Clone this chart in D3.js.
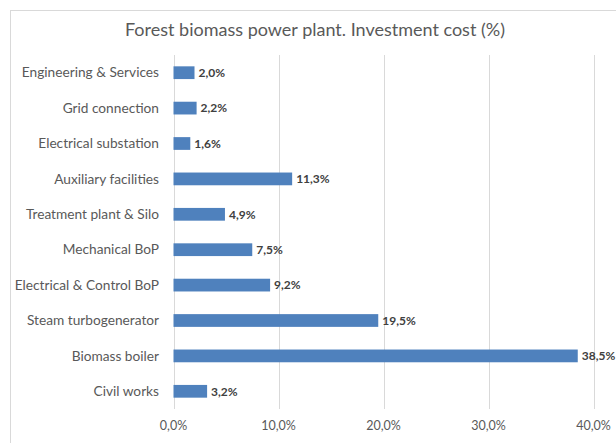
<!DOCTYPE html>
<html>
<head>
<meta charset="utf-8">
<title>investment cost</title>
<script src="https://cdn.jsdelivr.net/npm/d3@7"></script>
<style>
  body { margin: 0; background: #fff; }
  text { font-family: Lato, "Noto Sans", sans-serif; }
</style>
</head>
<body>
<script>
// categories top to bottom, as in the picture
var categories = ["Engineering & Services", "Grid connection", "Electrical substation",
  "Auxiliary facilities", "Treatment plant & Silo", "Mechanical BoP",
  "Electrical & Control BoP", "Steam turbogenerator", "Biomass boiler", "Civil works"];
var values = [2.0, 2.2, 1.6, 11.3, 4.9, 7.5, 9.2, 19.5, 38.5, 3.2];
var ticks = [0, 10, 20, 30, 40];

var w = 616, h = 443;
var fmt = function(d) { return d.toFixed(1).replace(".", ",") + "%"; };

var svg = d3.select("body").append("svg")
  .attr("width", w)
  .attr("height", h);

// chart frame
svg.append("rect")
  .attr("x", 10.5).attr("y", 10.5)
  .attr("width", 620).attr("height", 450)
  .attr("fill", "#fff")
  .attr("stroke", "#d9d9d9");

svg.append("text")
  .attr("x", 315).attr("y", 36)
  .attr("text-anchor", "middle")
  .attr("font-size", "18px")
  .attr("fill", "#595959")
  .text("Forest biomass power plant. Investment cost (%)");

var xScale = d3.scaleLinear().domain([0, 40]).range([173.5, 593.5]);
var yScale = d3.scaleBand().domain(categories).range([55, 409]).paddingInner(0.64).paddingOuter(0.32);

// gridlines
svg.selectAll("line.grid")
  .data(ticks)
  .enter()
  .append("line")
  .attr("class", "grid")
  .attr("x1", function(d) { return Math.round(xScale(d)) + 0.5; })
  .attr("x2", function(d) { return Math.round(xScale(d)) + 0.5; })
  .attr("y1", 55).attr("y2", 409)
  .attr("stroke", "#d9d9d9");

// x tick labels
svg.selectAll("text.tick")
  .data(ticks)
  .enter()
  .append("text")
  .attr("class", "tick")
  .attr("x", function(d) { return xScale(d); })
  .attr("y", 430)
  .attr("text-anchor", "middle")
  .attr("font-size", "12.5px")
  .attr("fill", "#595959")
  .text(fmt);

// bars
svg.selectAll("rect.bar")
  .data(values)
  .enter()
  .append("rect")
  .attr("class", "bar")
  .attr("x", xScale(0))
  .attr("y", function(d, i) { return yScale(categories[i]); })
  .attr("width", function(d) { return xScale(d) - xScale(0); })
  .attr("height", yScale.bandwidth())
  .attr("fill", "#4f81bd");

// category labels
svg.selectAll("text.cat")
  .data(categories)
  .enter()
  .append("text")
  .attr("class", "cat")
  .attr("x", 159)
  .attr("y", function(d) { return yScale(d) + yScale.bandwidth() / 2; })
  .attr("dy", "0.35em")
  .attr("text-anchor", "end")
  .attr("font-size", "13.7px")
  .attr("fill", "#595959")
  .text(function(d) { return d; });

// value labels
svg.selectAll("text.val")
  .data(values)
  .enter()
  .append("text")
  .attr("class", "val")
  .attr("x", function(d) { return xScale(d) + 4; })
  .attr("y", function(d, i) { return yScale(categories[i]) + yScale.bandwidth() / 2; })
  .attr("dy", "0.35em")
  .attr("font-size", "12px")
  .attr("font-weight", "bold")
  .attr("fill", "#404040")
  .text(fmt);
</script>
</body>
</html>
